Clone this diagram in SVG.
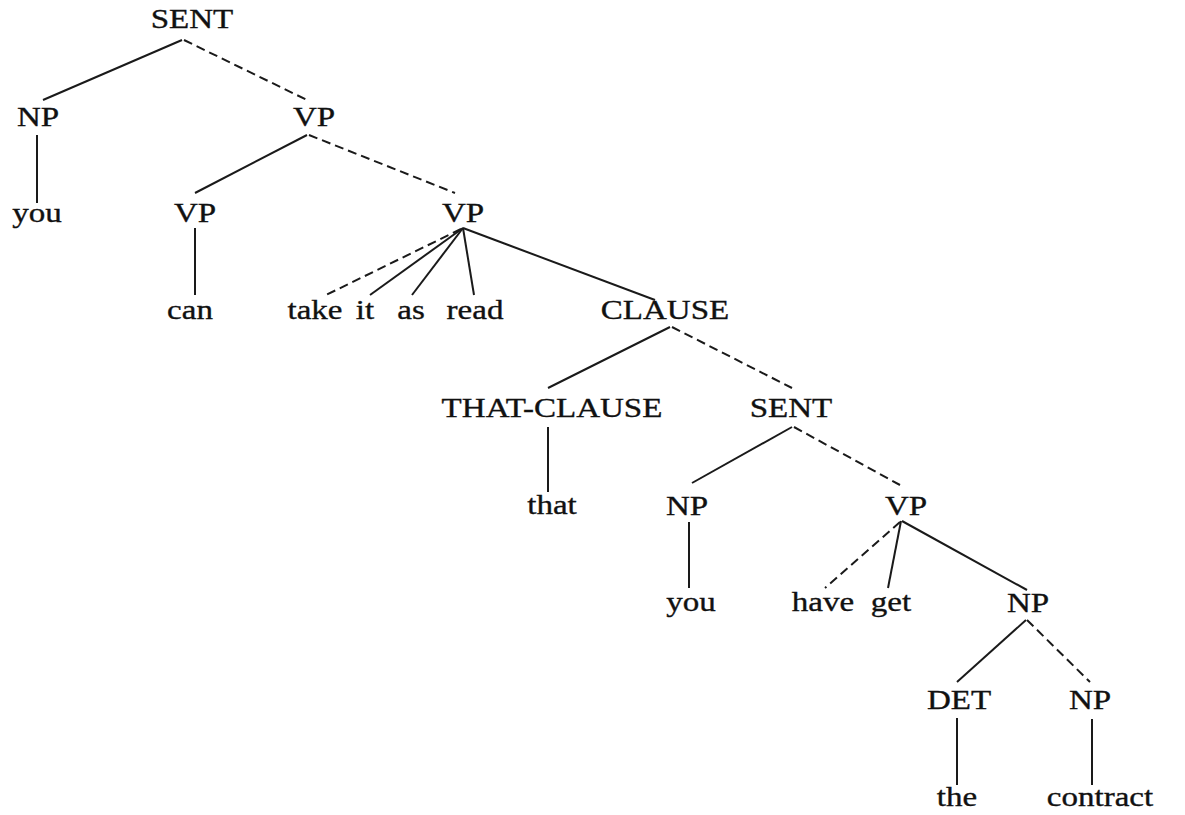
<svg xmlns="http://www.w3.org/2000/svg" width="1185" height="815" viewBox="0 0 1185 815">
<style>
text{font-family:"Liberation Serif","Times New Roman",serif;font-size:28px;fill:#111;stroke:#111;stroke-width:0.35;text-anchor:middle}
.e{stroke:#1a1a1a;stroke-width:2;fill:none;stroke-linecap:butt}
.d{stroke-dasharray:9 5}
</style>
<rect width="1185" height="815" fill="#fff"/>
<g id="connectors">
<line class="e" x1="182" y1="40" x2="43" y2="100"/>
<line class="e d" x1="184" y1="40" x2="307" y2="100"/>
<line class="e" x1="37" y1="135" x2="37" y2="203"/>
<line class="e" x1="307" y1="135" x2="195" y2="193"/>
<line class="e d" x1="309" y1="135" x2="455" y2="193"/>
<line class="e" x1="195" y1="228" x2="195" y2="295"/>
<line class="e d" x1="461" y1="229" x2="324" y2="296"/>
<line class="e" x1="463" y1="228" x2="370" y2="295"/>
<line class="e" x1="463" y1="228" x2="412" y2="295"/>
<line class="e" x1="463" y1="228" x2="474" y2="295"/>
<line class="e" x1="463" y1="228" x2="655" y2="300"/>
<line class="e" x1="670" y1="327" x2="548" y2="388"/>
<line class="e d" x1="672" y1="327" x2="792" y2="388"/>
<line class="e" x1="548" y1="427" x2="548" y2="492"/>
<line class="e" x1="792" y1="427" x2="692" y2="483"/>
<line class="e d" x1="794" y1="427" x2="900" y2="485"/>
<line class="e" x1="689" y1="522" x2="689" y2="588"/>
<line class="e d" x1="900" y1="522" x2="825" y2="588"/>
<line class="e" x1="901" y1="521" x2="888" y2="588"/>
<line class="e" x1="902" y1="521" x2="1027" y2="590"/>
<line class="e" x1="1026" y1="620" x2="957" y2="682"/>
<line class="e d" x1="1027" y1="620" x2="1090" y2="682"/>
<line class="e" x1="957" y1="718" x2="957" y2="785"/>
<line class="e" x1="1092" y1="719" x2="1092" y2="785"/>
</g>
<g id="n-sent1"><text transform="translate(192,28) scale(1.18,1)">SENT</text></g>
<g id="n-np1"><text transform="translate(38,126) scale(1.18,1)">NP</text></g>
<g id="n-vp1"><text transform="translate(314,126) scale(1.18,1)">VP</text></g>
<g id="n-you1"><text transform="translate(37,222) scale(1.18,1)">you</text></g>
<g id="n-vp2"><text transform="translate(195,222) scale(1.18,1)">VP</text></g>
<g id="n-vp3"><text transform="translate(463,222) scale(1.18,1)">VP</text></g>
<g id="n-can"><text transform="translate(190,319) scale(1.18,1)">can</text></g>
<g id="n-take"><text transform="translate(315,319) scale(1.18,1)">take</text></g>
<g id="n-it"><text transform="translate(365,319) scale(1.18,1)">it</text></g>
<g id="n-as"><text transform="translate(411,319) scale(1.18,1)">as</text></g>
<g id="n-read"><text transform="translate(475,319) scale(1.18,1)">read</text></g>
<g id="n-clause"><text transform="translate(665,319) scale(1.18,1)">CLAUSE</text></g>
<g id="n-thatclause"><text transform="translate(552,417) scale(1.18,1)">THAT-CLAUSE</text></g>
<g id="n-sent2"><text transform="translate(791,417) scale(1.18,1)">SENT</text></g>
<g id="n-that"><text transform="translate(552,514) scale(1.18,1)">that</text></g>
<g id="n-np2"><text transform="translate(687,515) scale(1.18,1)">NP</text></g>
<g id="n-vp4"><text transform="translate(906,515) scale(1.18,1)">VP</text></g>
<g id="n-you2"><text transform="translate(691,611) scale(1.18,1)">you</text></g>
<g id="n-have"><text transform="translate(823,611) scale(1.18,1)">have</text></g>
<g id="n-get"><text transform="translate(891,611) scale(1.18,1)">get</text></g>
<g id="n-np3"><text transform="translate(1028,612) scale(1.18,1)">NP</text></g>
<g id="n-det"><text transform="translate(959,709) scale(1.18,1)">DET</text></g>
<g id="n-np4"><text transform="translate(1090,709) scale(1.18,1)">NP</text></g>
<g id="n-the"><text transform="translate(957,806) scale(1.18,1)">the</text></g>
<g id="n-contract"><text transform="translate(1100,806) scale(1.18,1)">contract</text></g>
</svg>
